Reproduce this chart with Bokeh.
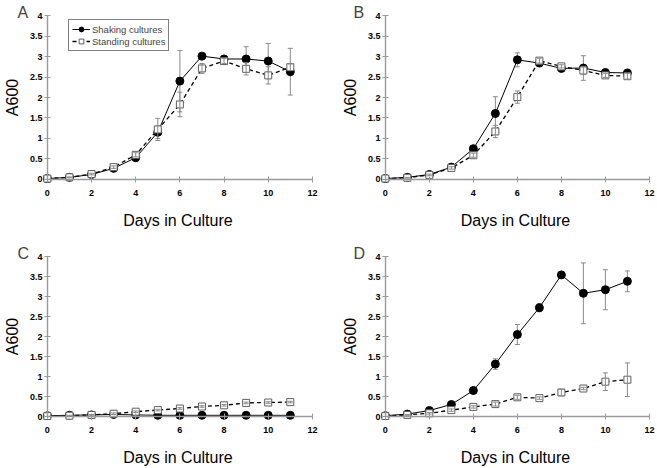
from bokeh.plotting import figure
from bokeh.models import (Range1d, FixedTicker, Whisker, TeeHead, ColumnDataSource,
                          Legend, LegendItem, LinearAxis)
from bokeh.layouts import gridplot
from bokeh.embed import file_html
from bokeh.resources import INLINE

# ---------------- data ----------------
days = [0, 1, 2, 3, 4, 5, 6, 7, 8, 9, 10, 11]
x_ticks = [0, 2, 4, 6, 8, 10, 12]
x_tick_labels = ["0", "2", "4", "6", "8", "10", "12"]
y_ticks = [0, 0.5, 1, 1.5, 2, 2.5, 3, 3.5, 4]
y_tick_labels = ["0", "0.5", "1", "1.5", "2", "2.5", "3", "3.5", "4"]
panel_letters = ["A", "B", "C", "D"]
series_names = ["Shaking cultures", "Standing cultures"]
x_title = "Days in Culture"
y_title = "A600"

shaking_a = [0.02, 0.05, 0.12, 0.27, 0.53, 1.15, 2.40, 3.01, 2.94, 2.94, 2.89, 2.63]
shaking_a_err = [0, 0.01, 0.02, 0.03, 0.06, 0.15, 0.75, 0.03, 0.04, 0.30, 0.43, 0.57]
standing_a = [0.02, 0.05, 0.13, 0.30, 0.60, 1.22, 1.83, 2.71, 2.89, 2.70, 2.54, 2.74]
standing_a_err = [0, 0.01, 0.02, 0.03, 0.05, 0.27, 0.30, 0.12, 0.06, 0.15, 0.21, 0.08]

shaking_b = [0.02, 0.05, 0.12, 0.30, 0.75, 1.61, 2.92, 2.84, 2.71, 2.72, 2.61, 2.60]
shaking_b_err = [0, 0.01, 0.02, 0.03, 0.05, 0.41, 0.17, 0.03, 0.03, 0.30, 0.06, 0.03]
standing_b = [0.02, 0.04, 0.11, 0.28, 0.59, 1.17, 2.01, 2.90, 2.76, 2.66, 2.54, 2.52]
standing_b_err = [0, 0.01, 0.02, 0.03, 0.05, 0.15, 0.15, 0.06, 0.04, 0.10, 0.05, 0.07]

shaking_c = [0.02, 0.03, 0.04, 0.05, 0.04, 0.03, 0.03, 0.03, 0.03, 0.03, 0.03, 0.03]
shaking_c_err = [0, 0, 0, 0, 0, 0, 0, 0, 0, 0, 0, 0]
standing_c = [0.01, 0.02, 0.04, 0.07, 0.12, 0.16, 0.20, 0.25, 0.28, 0.34, 0.35, 0.36]
standing_c_err = [0, 0.01, 0.01, 0.02, 0.02, 0.02, 0.02, 0.02, 0.02, 0.02, 0.02, 0.02]

shaking_d = [0.02, 0.06, 0.15, 0.30, 0.65, 1.31, 2.05, 2.72, 3.54, 3.08, 3.17, 3.38]
shaking_d_err = [0, 0.01, 0.02, 0.03, 0.03, 0.13, 0.25, 0.10, 0.02, 0.76, 0.50, 0.26]
standing_d = [0.01, 0.04, 0.08, 0.16, 0.24, 0.31, 0.48, 0.46, 0.60, 0.70, 0.87, 0.92]
standing_d_err = [0, 0.01, 0.02, 0.03, 0.03, 0.05, 0.05, 0.03, 0.08, 0.03, 0.22, 0.42]

FONT = "Liberation Sans"
GRAY = "#8a8a8a"
AXIS_GRAY = "#9a9a9a"

# layout geometry (columns / rows)
col_w = [328, 329]
col_bl = [41, 52]
col_br = [15, 7]
row_h = [239, 229]
row_bt = [11, 13]
row_bb = [56, 45]
letter_offset = [-25, -27]


def whiskers(p, vals, errs, level):
    xs = [d for d, e in zip(days, errs) if e > 0]
    up = [v + e for v, e in zip(vals, errs) if e > 0]
    lo = [v - e for v, e in zip(vals, errs) if e > 0]
    src = ColumnDataSource(dict(x=xs, upper=up, lower=lo))
    w = Whisker(base="x", upper="upper", lower="lower", source=src, dimension="height",
                line_color=GRAY, line_width=1, level=level,
                upper_head=TeeHead(size=5, line_color=GRAY, line_width=1),
                lower_head=TeeHead(size=5, line_color=GRAY, line_width=1))
    p.add_layout(w)


def panel(idx, shaking, shaking_err, standing, standing_err, legend=False):
    c = idx % 2
    r = idx // 2
    p = figure(width=col_w[c], height=row_h[r], output_backend="svg", toolbar_location=None,
               x_range=Range1d(-0.22, 12.05), y_range=Range1d(-0.1, 4.1),
               min_border_left=col_bl[c], min_border_right=col_br[c],
               min_border_top=row_bt[r], min_border_bottom=row_bb[r],
               title=panel_letters[idx])
    p.title.align = "left"
    p.title.offset = letter_offset[c]
    p.title.text_font = FONT
    p.title.text_font_size = "16px"
    p.title.text_font_style = "normal"
    p.title.standoff = -18
    p.outline_line_color = None
    p.xgrid.visible = False
    p.ygrid.visible = False
    p.background_fill_color = "white"
    p.border_fill_color = "white"

    # label axes at the frame edges (text only)
    for ax, ticks, labels in ((p.xaxis[0], x_ticks, x_tick_labels),
                              (p.yaxis[0], y_ticks, y_tick_labels)):
        ax.ticker = FixedTicker(ticks=ticks)
        ax.major_label_overrides = {t: l for t, l in zip(ticks, labels)}
        ax.axis_line_color = None
        ax.major_tick_line_color = None
        ax.minor_tick_line_color = None
        ax.major_tick_in = 0
        ax.major_tick_out = 0
        ax.major_label_text_font = FONT
        ax.major_label_text_font_size = "9px"
        ax.major_label_text_font_style = "bold"
        ax.major_label_text_color = "black"
        ax.axis_label_text_font = FONT
        ax.axis_label_text_font_size = "16px"
        ax.axis_label_text_font_style = "normal"
        ax.axis_label_text_color = "black"
    p.xaxis.axis_label = x_title
    p.yaxis.axis_label = y_title
    p.xaxis.major_label_standoff = 6
    p.xaxis.axis_label_standoff = 13
    p.yaxis.major_label_standoff = 0
    p.yaxis.axis_label_standoff = 6

    # axis lines and ticks crossing at zero
    for ticks, bnds, side in ((x_ticks, (0, 12), "below"), (y_ticks, (0, 4), "left")):
        ax = LinearAxis(fixed_location=0, bounds=bnds, ticker=FixedTicker(ticks=ticks),
                        major_label_overrides={t: "" for t in ticks},
                        major_label_text_color=None,
                        axis_line_color=AXIS_GRAY, axis_line_width=1.4,
                        major_tick_line_color=AXIS_GRAY,
                        minor_tick_line_color=None, major_tick_in=3, major_tick_out=3)
        p.add_layout(ax, side)

    whiskers(p, shaking, shaking_err, "underlay")
    l1 = p.line(days, shaking, line_color="black", line_width=1)
    s1 = p.scatter(days, shaking, marker="circle", size=8, fill_color="black", line_color="black")
    l2 = p.line(days, standing, line_color="black", line_width=1.3, line_dash="4 3")
    s2 = p.scatter(days, standing, marker="square", size=7, fill_color="white",
                   line_color="#606060", line_width=1)
    whiskers(p, standing, standing_err, "annotation")

    if legend:
        lg = Legend(items=[LegendItem(label=series_names[0], renderers=[l1, s1]),
                           LegendItem(label=series_names[1], renderers=[l2, s2])],
                    location=(26, 132))
        lg.border_line_color = "black"
        lg.border_line_width = 1
        lg.background_fill_alpha = 1
        lg.padding = 3
        lg.spacing = 0
        lg.margin = 0
        lg.label_text_font = FONT
        lg.label_text_font_size = "9.5px"
        lg.glyph_width = 18
        lg.glyph_height = 12
        lg.label_height = 12
        lg.label_standoff = 2
        p.add_layout(lg)
    return p


pa = panel(0, shaking_a, shaking_a_err, standing_a, standing_a_err, legend=True)
pb = panel(1, shaking_b, shaking_b_err, standing_b, standing_b_err)
pc = panel(2, shaking_c, shaking_c_err, standing_c, standing_c_err)
pd = panel(3, shaking_d, shaking_d_err, standing_d, standing_d_err)

grid = gridplot([[pa, pb], [pc, pd]], toolbar_location=None)

open("out.html", "w").write(file_html(grid, INLINE))
